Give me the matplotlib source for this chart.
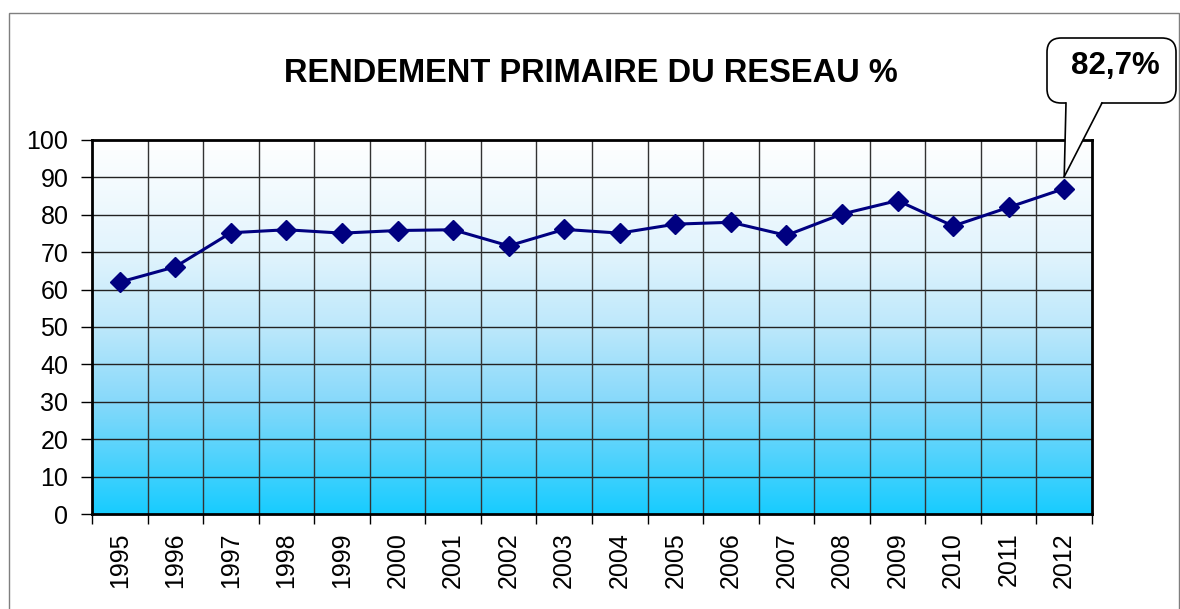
import numpy as np
import matplotlib.pyplot as plt
from matplotlib.colors import LinearSegmentedColormap
from matplotlib.patches import FancyBboxPatch, Polygon, Rectangle
from matplotlib.lines import Line2D

plt.rcParams['font.family'] = ['Liberation Sans', 'DejaVu Sans']

years = ['1995', '1996', '1997', '1998', '1999', '2000', '2001', '2002', '2003',
         '2004', '2005', '2006', '2007', '2008', '2009', '2010', '2011', '2012']
rendement = [62.0, 66.1, 75.2, 76.0, 75.1, 75.8, 76.0, 71.7, 76.1,
             75.1, 77.5, 78.0, 74.5, 80.2, 83.8, 77.0, 82.0, 87.0]
callout_text = '82,7%'
title = 'RENDEMENT PRIMAIRE DU RESEAU %'

W, H = 1180, 609
fig = plt.figure(figsize=(W / 100, H / 100), dpi=100)

# outer frame of the chart
fig.add_artist(Rectangle((9 / W, -0.01), (1179 - 9) / W, (H - 13) / H + 0.01,
                         transform=fig.transFigure, fill=False,
                         edgecolor='#7f7f7f', lw=1.0))

ax = fig.add_axes([92 / W, (H - 514) / H, 1000 / W, 374 / H])

n = len(years)
x = np.arange(n)
ax.set_xlim(-0.5, n - 0.5)
ax.set_ylim(0, 100)

# gradient background
cmap = LinearSegmentedColormap.from_list('bg', [
    (0.0, '#18CCFF'), (0.3, '#87D9FA'), (0.5, '#BDE8FB'),
    (0.7, '#E2F4FD'), (1.0, '#FFFFFF')])
grad = np.linspace(0, 1, 256).reshape(-1, 1)
ax.imshow(grad, cmap=cmap, origin='lower', aspect='auto',
          extent=[-0.5, n - 0.5, 0, 100], zorder=0)

# grid
for yy in range(10, 100, 10):
    ax.axhline(yy, color='#222222', lw=1.0, zorder=1)
for xx in np.arange(0.5, n - 0.5, 1):
    ax.axvline(xx, color='#333333', lw=1.0, zorder=1)

ax.plot(x, rendement, color='#000080', lw=2.2, marker='D', markersize=10,
        zorder=3, clip_on=False)

for s in ax.spines.values():
    s.set_linewidth(2.0)
    s.set_zorder(4)

ax.set_yticks(np.arange(0, 101, 10))
ax.tick_params(axis='y', labelsize=18, length=8, width=1, pad=9, direction='out')
ax.set_xticks(np.arange(-0.5, n, 1))
ax.set_xticklabels([])
ax.set_xticks(x, minor=True)
ax.set_xticklabels(years, minor=True, rotation=90, fontsize=18)
ax.tick_params(axis='x', which='major', length=7, width=1, direction='out')
ax.tick_params(axis='x', which='minor', length=0, pad=13)

fig.text(591 / W, 1 - 73 / H, title, ha='center', va='center',
         fontsize=23.5, fontweight='bold')

# callout bubble pointing at the last point
tip = ax.transData.transform((x[-1], rendement[-1] + 3.2))
tip = fig.transFigure.inverted().transform(tip)
bx0, by0, bx1, by1 = 1047 / W, 1 - 103 / H, 1176 / W, 1 - 38 / H
box = FancyBboxPatch((bx0, by0), bx1 - bx0, by1 - by0,
                     boxstyle='round,pad=0,rounding_size=0.012',
                     transform=fig.transFigure, facecolor='white',
                     edgecolor='black', lw=1.2, zorder=10,
                     mutation_aspect=W / H)
fig.add_artist(box)
t0 = (1066 / W, by0 + 2 / H)
t1 = (1102 / W, by0 + 2 / H)
fig.add_artist(Polygon([t0, t1, tip], closed=True, transform=fig.transFigure,
                       facecolor='white', edgecolor='none', zorder=11))
fig.add_artist(Line2D([t0[0], tip[0]], [by0, tip[1]], transform=fig.transFigure,
                      color='black', lw=1.2, zorder=12))
fig.add_artist(Line2D([t1[0], tip[0]], [by0, tip[1]], transform=fig.transFigure,
                      color='black', lw=1.2, zorder=12))
fig.text(1115 / W, 1 - 66 / H, callout_text, ha='center', va='center',
         fontsize=22.5, fontweight='bold', zorder=13)

fig.savefig('out.png', dpi=100, facecolor='white')
